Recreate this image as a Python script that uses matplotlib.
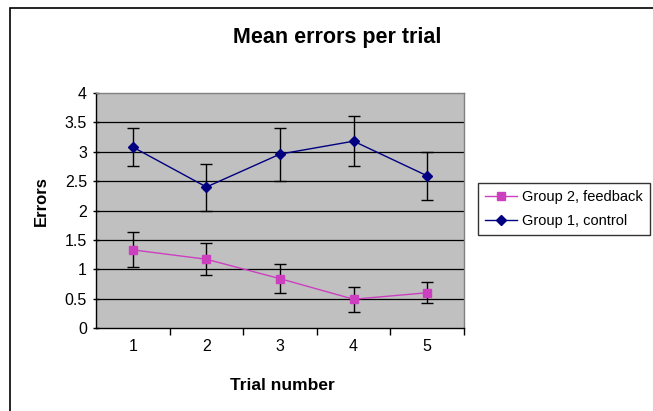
import matplotlib
matplotlib.use("Agg")
import matplotlib.pyplot as plt
from matplotlib.patches import Rectangle
from matplotlib.lines import Line2D

plt.rcParams['font.family'] = ['Liberation Sans', 'DejaVu Sans']

trials = [1, 2, 3, 4, 5]
group1_mean = [3.08, 2.40, 2.96, 3.18, 2.59]
group1_err = [0.33, 0.40, 0.45, 0.43, 0.41]
group2_mean = [1.33, 1.17, 0.84, 0.49, 0.60]
group2_err = [0.30, 0.27, 0.25, 0.21, 0.18]
yticks = [0, 0.5, 1, 1.5, 2, 2.5, 3, 3.5, 4]
ytick_labels = ['0', '0.5', '1', '1.5', '2', '2.5', '3', '3.5', '4']

W, H = 653, 411
fig = plt.figure(figsize=(W / 100, H / 100), dpi=100)
fig.patch.set_facecolor('white')
fig.patches.append(Rectangle((10 / W, -0.05), 1.1, (H - 8) / H + 0.05, transform=fig.transFigure,
                             fill=False, edgecolor='black', linewidth=1.2))

ax = fig.add_axes([96 / W, (H - 328) / H, (464 - 96) / W, (328 - 93) / H])
ax.set_facecolor('#C0C0C0')
ax.set_xlim(0.5, 5.5)
ax.set_ylim(0, 4)
for y in yticks[1:-1]:
    ax.axhline(y, color='black', linewidth=0.9, zorder=1)

pink = '#CC40C0'
navy = '#000080'
ax.errorbar(trials, group2_mean, yerr=group2_err, color=pink, marker='s', markersize=6,
            linewidth=1.0, ecolor='black', elinewidth=1.0, capsize=4, capthick=1.0, zorder=3)
ax.errorbar(trials, group1_mean, yerr=group1_err, color=navy, marker='D', markersize=5,
            linewidth=1.0, ecolor='black', elinewidth=1.0, capsize=4, capthick=1.0, zorder=3)

ax.set_yticks(yticks)
ax.set_yticklabels(ytick_labels)
ax.set_xticks(trials)
ax.set_xticks([1.5, 2.5, 3.5, 4.5, 5.5], minor=True)
ax.tick_params(axis='x', which='major', length=0, pad=8, labelsize=11.5)
ax.tick_params(axis='x', which='minor', length=5, direction='out', width=1)
ax.tick_params(axis='y', which='major', length=5, direction='inout', width=1, labelsize=11.5, pad=4)

for s in ['top', 'right']:
    ax.spines[s].set_color('#808080')
    ax.spines[s].set_linewidth(1)
for s in ['left', 'bottom']:
    ax.spines[s].set_color('black')
    ax.spines[s].set_linewidth(1)

fig.text(337 / W, 1 - 38 / H, 'Mean errors per trial', ha='center', va='center',
         fontsize=15.5, fontweight='bold')
fig.text(41 / W, 1 - 201 / H, 'Errors', ha='center', va='center', rotation=90,
         fontsize=12, fontweight='bold')
fig.text(282 / W, 1 - 385 / H, 'Trial number', ha='center', va='center',
         fontsize=12.5, fontweight='bold')

handles = [Line2D([], [], color=pink, marker='s', markersize=6, linewidth=1.0),
           Line2D([], [], color=navy, marker='D', markersize=5, linewidth=1.0)]
leg = fig.legend(handles, ['Group 2, feedback', 'Group 1, control'],
                 loc='upper left', bbox_to_anchor=(478 / W, 1 - 183 / H),
                 frameon=True, fancybox=False, edgecolor='black', fontsize=10.5,
                 handlelength=2.2, handletextpad=0.3, borderpad=0.5, labelspacing=0.65,
                 borderaxespad=0)
leg.get_frame().set_linewidth(1)

fig.savefig('out.png', dpi=100)
